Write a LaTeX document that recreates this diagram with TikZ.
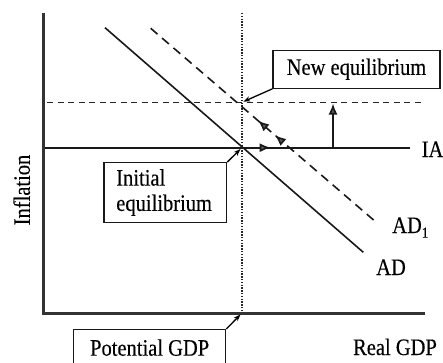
\documentclass[tikz,border=0pt]{standalone}
\usepackage{graphicx}
\usepackage{fontspec}
\setmainfont{Liberation Serif}[FakeBold=0.3]
\usetikzlibrary{arrows.meta,decorations.markings}
\newcommand\tallt[1]{\scalebox{1}[1.15]{#1}}
\begin{document}
\begin{tikzpicture}[x=1pt,y=-1pt,
  font=\fontsize{20.5}{24}\selectfont,
  axis/.style={line width=2.4pt, black!80},
  curve/.style={line width=1.6pt, black!90},
  dashcurve/.style={line width=1.6pt, black!90, dash pattern=on 9pt off 6pt},
  dashflat/.style={line width=1.5pt, black!85, dash pattern=on 6pt off 4.5pt},
  dotline/.style={line width=1.6pt, black!85, dash pattern=on 1.4pt off 1.4pt},
  bigtip/.style={-{Latex[length=11pt,width=9pt,fill=black!65]}},
  ctip/.style={line width=1.3pt, -{Stealth[length=7pt,width=5pt]}},
  lbl/.style={draw, line width=1.3pt, black!90, text=black, inner sep=0pt},
  tag/.style={inner sep=0pt}]
\useasboundingbox (0,0) rectangle (443,362);

% key points
\coordinate (ytop) at (43.3,13.3);
\coordinate (O) at (43.3,313.3);
\coordinate (xend) at (425,313.3);
\coordinate (pv0) at (242,13);
\coordinate (pv1) at (242,313.3);
\coordinate (ia0) at (43.3,147.7);
\coordinate (ia1) at (410,147.7);
\coordinate (nia0) at (47,102.7);
\coordinate (nia1) at (425,102.7);
\coordinate (ad0) at (105,27.7);
\coordinate (ad1) at (363.3,252.3);
\coordinate (adn0) at (150.7,28.3);
\coordinate (adn1) at (376.7,222.7);
\coordinate (va0) at (333,147.7);
\coordinate (va1) at (333,103.5);
\coordinate (nept) at (243.3,101.7);
\coordinate (iept) at (240.5,149);
\coordinate (pgpt) at (240.5,314.5);

% lines
\draw[dotline] (pv0) -- (pv1);
\draw[dashflat] (nia0) -- (nia1);
\draw[curve, postaction={decorate, decoration={markings,
   mark=at position 0.62 with {\arrow{Latex[length=11pt,width=9pt,fill=black!65]}}}}] (ia0) -- (ia1);
\draw[curve] (ad0) -- (ad1);
\draw[dashcurve, postaction={decorate, decoration={markings,
   mark=at position 0.475 with {\arrowreversed{Latex[length=11pt,width=9pt,fill=black!65]}},
   mark=at position 0.55 with {\arrowreversed{Latex[length=11pt,width=9pt,fill=black!65]}}}}] (adn0) -- (adn1);
\draw[curve, bigtip] (va0) -- (va1);
\draw[axis] (ytop) -- (O) -- (xend);

% boxes
\node[lbl, minimum width=167pt, minimum height=38pt] (newbox) at (356.5,69.2) {\tallt{New equilibrium}};
\node[lbl, minimum width=122.7pt, minimum height=60pt, text width=98pt, align=left] (initbox) at (165.3,192.7)
   {\tallt{\begin{tabular}{@{}l@{}}Initial\\[-2pt]equilibrium\end{tabular}}};
\node[lbl, anchor=north west, minimum width=152pt, text height=26pt, text depth=25pt] (potbox) at (73,329) {\tallt{Potential GDP}};

\draw[ctip] (newbox.south west) -- (nept);
\draw[ctip] (initbox.north east) -- (iept);
\draw[ctip] (potbox.north east) -- (pgpt);

% labels
\node[tag, anchor=base] (realgdp) at (395,355) {\tallt{Real GDP}};
\node[tag, anchor=base] (ialbl) at (432.5,157) {\tallt{IA}};
\node[tag, anchor=base west] (ad1lbl) at (392,233) {\tallt{AD\raisebox{-4pt}{\fontsize{13}{13}\selectfont 1}}};
\node[tag, anchor=base] (adlbl) at (391,275) {\tallt{AD}};
\node[tag, rotate=90] (inflbl) at (21.7,190) {\tallt{Inflation}};
\end{tikzpicture}
\end{document}
